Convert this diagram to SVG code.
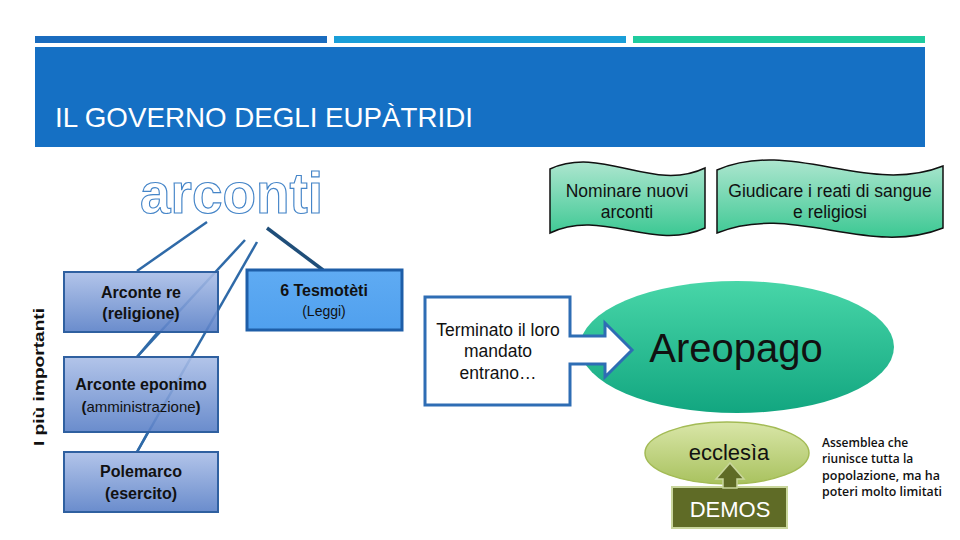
<svg xmlns="http://www.w3.org/2000/svg" width="960" height="540" viewBox="0 0 960 540">
<defs>
<linearGradient id="gBox" x1="0" y1="0" x2="0" y2="1"><stop offset="0" stop-color="#aabee7"/><stop offset="1" stop-color="#5a80c7"/></linearGradient>
<linearGradient id="gTes" x1="0" y1="0" x2="0" y2="1"><stop offset="0" stop-color="#5fabf3"/><stop offset="1" stop-color="#50a0ee"/></linearGradient>
<linearGradient id="gBan" x1="0" y1="0" x2="0" y2="1"><stop offset="0" stop-color="#ade6cf"/><stop offset="1" stop-color="#3cc893"/></linearGradient>
<linearGradient id="gAre" x1="0" y1="0" x2="0" y2="1"><stop offset="0" stop-color="#48d6a8"/><stop offset="1" stop-color="#12a680"/></linearGradient>
<linearGradient id="gEcc" x1="0" y1="0" x2="0" y2="1"><stop offset="0" stop-color="#d9e6a8"/><stop offset="1" stop-color="#a9c25f"/></linearGradient>
</defs>
<style>
.t{font-family:"Liberation Sans",Arial,sans-serif;fill:#111}
.b{font-weight:bold}
.c{text-anchor:middle}
.box{fill:url(#gBox);fill-opacity:0.9;stroke:#2f60a0;stroke-width:2}
.ln{stroke:#2f6aa8;stroke-width:2.5;fill:none}
.ban{fill:url(#gBan);stroke:#111;stroke-width:1.5}
</style>
<rect width="960" height="540" fill="#ffffff"/>
<g id="header">
<rect x="35" y="36" width="292" height="7" fill="#1a6cbf"/>
<rect x="334" y="36" width="292" height="7" fill="#1a9ed8"/>
<rect x="633" y="36" width="292" height="7" fill="#1fcb9e"/>
<rect x="35" y="47" width="890" height="100" fill="#1570c4"/>
<text x="55" y="127" font-family="Liberation Sans, Arial, sans-serif" font-size="28" fill="#ffffff" textLength="418" lengthAdjust="spacingAndGlyphs">IL GOVERNO DEGLI EUPÀTRIDI</text>
</g>
<g id="connectors">
<line class="ln" x1="207" y1="222" x2="137" y2="271"/>
<line class="ln" x1="245" y1="240" x2="137" y2="357"/>
<line class="ln" x1="257" y1="242" x2="137" y2="452"/>
<line class="ln" x1="158" y1="332" x2="137" y2="357"/>
<line class="ln" x1="148" y1="432" x2="137" y2="452"/>
<line x1="267" y1="228" x2="323" y2="270" stroke="#1f4e79" stroke-width="3.5"/>
</g>
<g id="arconti">
<text x="140" y="213" font-family="Liberation Sans, Arial, sans-serif" font-weight="bold" font-size="58" fill="#ffffff" stroke="#4585c8" stroke-width="1.2" textLength="183" lengthAdjust="spacingAndGlyphs">arconti</text>
</g>
<g id="label-importanti">
<text transform="translate(44,377) rotate(-90)" class="t b c" font-size="15" textLength="138" lengthAdjust="spacingAndGlyphs">I più importanti</text>
</g>
<g id="arconte-re">
<rect class="box" x="64" y="272" width="154" height="60"/>
<text x="141" y="298" class="t b c" font-size="16">Arconte re</text>
<text x="141" y="319" class="t b c" font-size="16">(religione)</text>
</g>
<g id="arconte-eponimo">
<rect class="box" x="64" y="357" width="154" height="75"/>
<text x="141" y="390" class="t b c" font-size="16">Arconte eponimo</text>
<text x="141" y="412" class="t c" font-size="15"><tspan font-weight="bold">(</tspan>amministrazione<tspan font-weight="bold">)</tspan></text>
</g>
<g id="polemarco">
<rect class="box" x="64" y="452" width="154" height="60"/>
<text x="141" y="477" class="t b c" font-size="16">Polemarco</text>
<text x="141" y="499" class="t b c" font-size="16">(esercito)</text>
</g>
<g id="tesmoteti">
<rect x="247" y="270" width="155" height="60" fill="url(#gTes)" stroke="#1e5ea8" stroke-width="3"/>
<text x="324" y="296" class="t b c" font-size="16">6 Tesmotèti</text>
<text x="324" y="316" class="t c" font-size="14" fill="#222">(Leggi)</text>
</g>
<g id="banner-nominare">
<path class="ban" d="M550,169 C602,145 653,193 705,168 V228 C653,252 602,208 550,233 Z"/>
<text x="627" y="197" class="t c" font-size="17.5">Nominare nuovi</text>
<text x="627" y="218" class="t c" font-size="17.5">arconti</text>
</g>
<g id="banner-giudicare">
<path class="ban" d="M717,170 C792,138 868,196 943,166 V228 C868,258 792,202 717,233 Z"/>
<text x="830" y="197" class="t c" font-size="17.5">Giudicare i reati di sangue</text>
<text x="830" y="218" class="t c" font-size="17.5">e religiosi</text>
</g>
<g id="areopago">
<ellipse cx="737" cy="347" rx="157" ry="66" fill="url(#gAre)"/>
<text x="736" y="362" class="t c" font-size="40">Areopago</text>
</g>
<g id="terminato">
<path d="M425,297 H570 V336 H605 V323 L632,350 L605,377 V364 H570 V405 H425 Z" fill="#ffffff" stroke="#2e6db4" stroke-width="3" stroke-linejoin="miter"/>
<text x="498" y="336" class="t c" font-size="17.5">Terminato il loro</text>
<text x="498" y="357" class="t c" font-size="17.5">mandato</text>
<text x="498" y="379" class="t c" font-size="17.5">entrano…</text>
</g>
<g id="ecclesia">
<ellipse cx="727" cy="453" rx="82" ry="31" fill="url(#gEcc)" stroke="#a3bb55" stroke-width="1.5"/>
<text x="729" y="460" class="t c" font-size="22">ecclesìa</text>
</g>
<g id="demos">
<rect x="672" y="487" width="115" height="41" fill="#5f6b26" stroke="#c9d69c" stroke-width="2"/>
<text x="730" y="517" class="t c" font-size="22" style="fill:#ffffff">DEMOS</text>
<path d="M723,488 V479 H716 L730,463 L744,479 H737 V488 Z" fill="#5f6b26" stroke="#c9d69c" stroke-width="1.5"/>
</g>
<g id="assemblea-note">
<text class="t" font-size="12" style="font-family:'Open Sans',sans-serif;font-weight:600">
<tspan x="822" y="447">Assemblea che</tspan>
<tspan x="822" y="463">riunisce tutta la</tspan>
<tspan x="822" y="480" textLength="118" lengthAdjust="spacingAndGlyphs">popolazione, ma ha</tspan>
<tspan x="822" y="496" textLength="120" lengthAdjust="spacingAndGlyphs">poteri molto limitati</tspan>
</text>
</g>
</svg>
